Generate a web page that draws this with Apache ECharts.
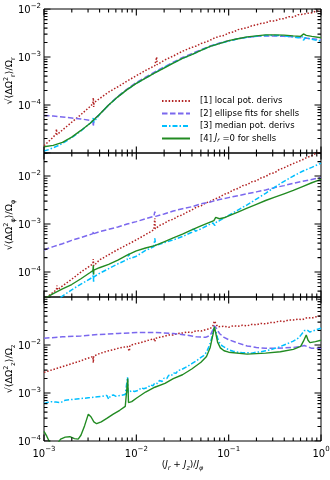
<!DOCTYPE html>
<html><head><meta charset="utf-8">
<script src="https://cdn.jsdelivr.net/npm/echarts@6/dist/echarts.min.js"></script>
<style>html,body{margin:0;padding:0;background:#fff}#c{width:330px;height:480px}</style>
</head><body><div id="c"></div>
<script>
// ---- data: points are [log10(x), log10(y)] (axes are drawn in decades) ----
const SERIES_NAMES = ['[1] local pot. derivs','[2] ellipse fits for shells','[3] median pot. derivs','[4] Jr =0 for shells'];
const X_MAJOR = [-3, -2, -1, 0];           // decades: 10^-3 ... 10^0
const Y_LABELED = [-4, -3, -2];            // labelled decades on every panel
const Y_RANGES = [[-5, -2], [-4.52, -1.52], [-4, -1]];
const Y_MAJOR = [[-5, -4, -3, -2], [-4, -3, -2], [-4, -3, -2, -1]];
const MANTISSAS = [2, 3, 4, 5, 6, 7, 8, 9];

// Panel 1 : radial
const p1_red = [[-3.0,-4.85],[-2.95,-4.76],[-2.9,-4.67],[-2.87,-4.6],[-2.865,-4.5],[-2.86,-4.62],[-2.8,-4.52],[-2.7,-4.36],[-2.6,-4.2],[-2.5,-4.03],[-2.47,-3.97],[-2.466,-3.85],[-2.462,-4.04],[-2.458,-3.95],[-2.4,-3.87],[-2.3,-3.73],[-2.2,-3.62],[-2.1,-3.5],[-2.0,-3.39],[-1.9,-3.28],[-1.8,-3.18],[-1.785,-3.16],[-1.78,-3.0],[-1.775,-3.16],[-1.7,-3.07],[-1.6,-2.98],[-1.5,-2.88],[-1.45,-2.84],[-1.4,-2.8],[-1.35,-2.77],[-1.3,-2.72],[-1.25,-2.69],[-1.2,-2.65],[-1.15,-2.6],[-1.1,-2.57],[-1.05,-2.55],[-1.0,-2.5],[-0.95,-2.48],[-0.9,-2.43],[-0.85,-2.41],[-0.8,-2.39],[-0.75,-2.35],[-0.7,-2.33],[-0.65,-2.3],[-0.6,-2.29],[-0.55,-2.25],[-0.5,-2.25],[-0.45,-2.21],[-0.4,-2.2],[-0.35,-2.16],[-0.3,-2.17],[-0.25,-2.12],[-0.2,-2.11],[-0.15,-2.09],[-0.1,-2.08],[-0.05,-2.04],[0,-2.05]];
const p1_blue = [[-3.0,-4.22],[-2.9,-4.23],[-2.8,-4.25],[-2.7,-4.27],[-2.6,-4.29],[-2.5,-4.32],[-2.47,-4.33],[-2.466,-4.45],[-2.46,-4.3],[-2.4,-4.2],[-2.3,-4.0],[-2.2,-3.82],[-2.1,-3.67],[-2.0,-3.53],[-1.9,-3.42],[-1.8,-3.31],[-1.7,-3.21],[-1.6,-3.11],[-1.5,-3.01],[-1.4,-2.93],[-1.3,-2.85],[-1.2,-2.77],[-1.1,-2.71],[-1.0,-2.66],[-0.9,-2.62],[-0.8,-2.59],[-0.7,-2.57],[-0.6,-2.56],[-0.5,-2.56],[-0.4,-2.57],[-0.3,-2.58],[-0.2,-2.6],[-0.1,-2.62],[0,-2.64]];
const p1_cyan = [[-3.0,-4.96],[-2.95,-4.93],[-2.9,-4.89],[-2.85,-4.85],[-2.8,-4.8],[-2.7,-4.68],[-2.6,-4.54],[-2.5,-4.38],[-2.47,-4.33],[-2.466,-4.25],[-2.462,-4.36],[-2.4,-4.2],[-2.3,-4.0],[-2.2,-3.83],[-2.1,-3.68],[-2.0,-3.55],[-1.9,-3.44],[-1.8,-3.33],[-1.7,-3.22],[-1.6,-3.12],[-1.5,-3.03],[-1.4,-2.95],[-1.3,-2.86],[-1.2,-2.78],[-1.1,-2.72],[-1.0,-2.67],[-0.9,-2.62],[-0.8,-2.59],[-0.7,-2.57],[-0.6,-2.55],[-0.5,-2.55],[-0.4,-2.56],[-0.3,-2.58],[-0.25,-2.6],[-0.2,-2.58],[-0.19,-2.65],[-0.17,-2.6],[-0.1,-2.63],[-0.05,-2.65],[0,-2.67]];
const p1_green = [[-3.0,-4.87],[-2.9,-4.84],[-2.8,-4.78],[-2.7,-4.67],[-2.6,-4.53],[-2.5,-4.38],[-2.4,-4.2],[-2.3,-4.0],[-2.2,-3.83],[-2.1,-3.68],[-2.0,-3.55],[-1.9,-3.44],[-1.8,-3.33],[-1.7,-3.23],[-1.6,-3.13],[-1.5,-3.03],[-1.4,-2.95],[-1.3,-2.86],[-1.2,-2.78],[-1.1,-2.72],[-1.0,-2.66],[-0.9,-2.62],[-0.8,-2.58],[-0.7,-2.56],[-0.6,-2.54],[-0.5,-2.54],[-0.4,-2.545],[-0.3,-2.56],[-0.22,-2.57],[-0.19,-2.52],[-0.16,-2.55],[-0.1,-2.57],[0,-2.6]];

// Panel 2 : azimuthal
const p2_red = [[-3.0,-4.58],[-2.95,-4.5],[-2.9,-4.42],[-2.865,-4.37],[-2.86,-4.28],[-2.855,-4.37],[-2.8,-4.29],[-2.7,-4.15],[-2.6,-4.0],[-2.5,-3.87],[-2.47,-3.83],[-2.466,-3.73],[-2.462,-3.87],[-2.4,-3.75],[-2.3,-3.64],[-2.2,-3.53],[-2.1,-3.43],[-2.0,-3.33],[-1.9,-3.22],[-1.81,-3.12],[-1.8,-2.88],[-1.795,-3.1],[-1.75,-3.03],[-1.7,-2.99],[-1.65,-2.93],[-1.6,-2.9],[-1.55,-2.84],[-1.5,-2.81],[-1.45,-2.75],[-1.4,-2.71],[-1.35,-2.65],[-1.3,-2.62],[-1.25,-2.56],[-1.2,-2.53],[-1.15,-2.48],[-1.1,-2.44],[-1.05,-2.38],[-1.0,-2.35],[-0.95,-2.29],[-0.9,-2.26],[-0.85,-2.2],[-0.8,-2.18],[-0.75,-2.12],[-0.7,-2.1],[-0.65,-2.04],[-0.6,-2.01],[-0.55,-1.95],[-0.5,-1.93],[-0.45,-1.86],[-0.4,-1.83],[-0.35,-1.78],[-0.3,-1.74],[-0.25,-1.7],[-0.2,-1.66],[-0.15,-1.61],[-0.1,-1.58],[-0.05,-1.52],[0,-1.49]];
const p2_blue = [[-3.0,-3.54],[-2.9,-3.47],[-2.8,-3.41],[-2.7,-3.34],[-2.6,-3.28],[-2.5,-3.22],[-2.47,-3.2],[-2.466,-3.15],[-2.46,-3.2],[-2.4,-3.16],[-2.3,-3.11],[-2.2,-3.06],[-2.1,-3.0],[-2.0,-2.95],[-1.9,-2.89],[-1.81,-2.84],[-1.8,-2.74],[-1.79,-2.84],[-1.7,-2.79],[-1.6,-2.73],[-1.5,-2.68],[-1.4,-2.64],[-1.3,-2.58],[-1.2,-2.54],[-1.1,-2.49],[-1.0,-2.45],[-0.9,-2.41],[-0.8,-2.37],[-0.7,-2.33],[-0.6,-2.29],[-0.5,-2.24],[-0.4,-2.2],[-0.3,-2.15],[-0.2,-2.11],[-0.1,-2.07],[0,-2.03]];
const p2_cyan = [[-3.0,-4.8],[-2.9,-4.63],[-2.8,-4.5],[-2.7,-4.37],[-2.6,-4.25],[-2.5,-4.14],[-2.47,-4.1],[-2.466,-3.95],[-2.463,-4.22],[-2.46,-4.1],[-2.4,-4.03],[-2.3,-3.93],[-2.2,-3.83],[-2.1,-3.74],[-2.08,-3.62],[-2.07,-3.72],[-2.0,-3.67],[-1.9,-3.55],[-1.81,-3.47],[-1.8,-3.3],[-1.79,-3.45],[-1.7,-3.39],[-1.6,-3.33],[-1.5,-3.26],[-1.4,-3.17],[-1.38,-3.08],[-1.36,-3.15],[-1.3,-3.1],[-1.2,-3.0],[-1.17,-2.98],[-1.15,-3.03],[-1.13,-2.95],[-1.1,-2.93],[-1.0,-2.82],[-0.9,-2.71],[-0.8,-2.6],[-0.7,-2.48],[-0.6,-2.36],[-0.5,-2.23],[-0.45,-2.17],[-0.4,-2.11],[-0.3,-2.0],[-0.2,-1.9],[-0.1,-1.82],[0,-1.73]];
const p2_green = [[-3.0,-4.56],[-2.9,-4.45],[-2.8,-4.35],[-2.7,-4.26],[-2.6,-4.14],[-2.5,-4.01],[-2.47,-3.97],[-2.466,-3.86],[-2.463,-4.05],[-2.46,-3.96],[-2.4,-3.91],[-2.3,-3.84],[-2.2,-3.75],[-2.1,-3.65],[-2.0,-3.56],[-1.9,-3.5],[-1.8,-3.45],[-1.7,-3.37],[-1.6,-3.29],[-1.5,-3.21],[-1.4,-3.12],[-1.3,-3.04],[-1.2,-2.96],[-1.16,-2.93],[-1.14,-2.86],[-1.12,-2.85],[-1.1,-2.89],[-1.05,-2.87],[-1.0,-2.83],[-0.9,-2.75],[-0.8,-2.67],[-0.7,-2.59],[-0.6,-2.51],[-0.5,-2.44],[-0.4,-2.37],[-0.3,-2.3],[-0.2,-2.22],[-0.1,-2.14],[0,-2.07]];

// Panel 3 : vertical
const p3_red = [[-3.0,-2.57],[-2.95,-2.54],[-2.9,-2.51],[-2.85,-2.48],[-2.8,-2.45],[-2.75,-2.42],[-2.7,-2.39],[-2.65,-2.36],[-2.6,-2.33],[-2.55,-2.29],[-2.5,-2.26],[-2.47,-2.24],[-2.466,-2.37],[-2.462,-2.23],[-2.4,-2.18],[-2.35,-2.15],[-2.3,-2.12],[-2.25,-2.1],[-2.2,-2.07],[-2.15,-2.05],[-2.1,-2.03],[-2.08,-2.02],[-2.075,-2.13],[-2.07,-2.01],[-2.0,-1.97],[-1.95,-1.95],[-1.9,-1.92],[-1.85,-1.89],[-1.81,-1.87],[-1.8,-1.93],[-1.79,-1.86],[-1.75,-1.84],[-1.7,-1.82],[-1.65,-1.79],[-1.6,-1.79],[-1.55,-1.76],[-1.5,-1.75],[-1.45,-1.73],[-1.4,-1.74],[-1.35,-1.7],[-1.3,-1.71],[-1.25,-1.68],[-1.2,-1.66],[-1.17,-1.6],[-1.155,-1.5],[-1.14,-1.55],[-1.12,-1.62],[-1.1,-1.63],[-1.05,-1.61],[-1.0,-1.63],[-0.95,-1.6],[-0.9,-1.61],[-0.85,-1.59],[-0.8,-1.6],[-0.75,-1.57],[-0.7,-1.58],[-0.65,-1.55],[-0.6,-1.56],[-0.55,-1.53],[-0.5,-1.53],[-0.45,-1.5],[-0.4,-1.51],[-0.35,-1.48],[-0.3,-1.48],[-0.25,-1.46],[-0.2,-1.47],[-0.15,-1.43],[-0.1,-1.44],[-0.05,-1.41],[0,-1.39]];
const p3_blue = [[-3.0,-1.86],[-2.8,-1.83],[-2.6,-1.81],[-2.4,-1.78],[-2.2,-1.76],[-2.0,-1.74],[-1.8,-1.74],[-1.6,-1.76],[-1.47,-1.79],[-1.35,-1.83],[-1.25,-1.84],[-1.2,-1.8],[-1.17,-1.68],[-1.155,-1.6],[-1.13,-1.66],[-1.1,-1.76],[-1.05,-1.84],[-1.0,-1.89],[-0.9,-1.96],[-0.8,-2.02],[-0.7,-2.05],[-0.6,-2.07],[-0.5,-2.07],[-0.4,-2.06],[-0.3,-2.05],[-0.22,-2.03],[-0.18,-2.01],[-0.16,-1.99],[-0.14,-2.04],[-0.1,-2.07],[0,-2.07]];
const p3_cyan = [[-3.0,-3.22],[-2.97,-3.2],[-2.95,-3.24],[-2.92,-3.18],[-2.9,-3.21],[-2.87,-3.19],[-2.85,-3.16],[-2.82,-3.2],[-2.8,-3.17],[-2.77,-3.15],[-2.75,-3.18],[-2.72,-3.14],[-2.7,-3.16],[-2.67,-3.13],[-2.65,-3.15],[-2.62,-3.12],[-2.6,-3.14],[-2.57,-3.11],[-2.55,-3.13],[-2.52,-3.1],[-2.5,-3.12],[-2.47,-3.09],[-2.45,-3.11],[-2.42,-3.08],[-2.4,-3.1],[-2.37,-3.07],[-2.35,-3.09],[-2.32,-3.05],[-2.3,-3.13],[-2.28,-3.06],[-2.25,-3.04],[-2.22,-3.07],[-2.2,-3.03],[-2.17,-3.05],[-2.15,-3.01],[-2.12,-3.03],[-2.1,-2.99],[-2.095,-2.67],[-2.09,-2.99],[-2.07,-3.0],[-2.05,-2.95],[-2.02,-2.97],[-2.0,-2.93],[-1.97,-2.94],[-1.95,-2.89],[-1.92,-2.91],[-1.9,-2.87],[-1.87,-2.88],[-1.85,-2.83],[-1.82,-2.85],[-1.8,-2.79],[-1.77,-2.8],[-1.75,-2.74],[-1.72,-2.76],[-1.7,-2.69],[-1.67,-2.7],[-1.65,-2.63],[-1.62,-2.64],[-1.6,-2.58],[-1.57,-2.59],[-1.55,-2.53],[-1.52,-2.52],[-1.5,-2.49],[-1.45,-2.45],[-1.4,-2.39],[-1.35,-2.33],[-1.3,-2.26],[-1.27,-2.22],[-1.24,-2.15],[-1.22,-2.06],[-1.2,-1.96],[-1.18,-1.83],[-1.17,-1.74],[-1.16,-1.65],[-1.15,-1.62],[-1.14,-1.68],[-1.13,-1.76],[-1.12,-1.86],[-1.1,-1.95],[-1.07,-2.02],[-1.05,-2.05],[-1.0,-2.1],[-0.95,-2.13],[-0.9,-2.15],[-0.85,-2.16],[-0.8,-2.16],[-0.75,-2.17],[-0.7,-2.15],[-0.65,-2.14],[-0.6,-2.12],[-0.55,-2.1],[-0.5,-2.07],[-0.45,-2.04],[-0.4,-2.0],[-0.35,-1.96],[-0.3,-1.92],[-0.25,-1.86],[-0.22,-1.8],[-0.2,-1.75],[-0.18,-1.7],[-0.17,-1.67],[-0.15,-1.69],[-0.12,-1.73],[-0.1,-1.72],[-0.05,-1.68],[0,-1.65]];
const p3_green = [[-3.0,-3.8],[-2.97,-3.9],[-2.94,-4.02],[-2.9,-4.08],[-2.85,-4.04],[-2.82,-3.96],[-2.77,-3.92],[-2.72,-3.91],[-2.67,-3.95],[-2.63,-3.96],[-2.6,-3.88],[-2.56,-3.68],[-2.52,-3.44],[-2.49,-3.5],[-2.46,-3.6],[-2.43,-3.64],[-2.38,-3.6],[-2.32,-3.53],[-2.25,-3.44],[-2.18,-3.36],[-2.12,-3.28],[-2.1,-3.25],[-2.093,-2.7],[-2.085,-3.2],[-2.05,-3.18],[-2.0,-3.11],[-1.9,-2.98],[-1.8,-2.88],[-1.69,-2.8],[-1.6,-2.7],[-1.5,-2.62],[-1.4,-2.5],[-1.3,-2.36],[-1.24,-2.24],[-1.2,-2.05],[-1.17,-1.78],[-1.155,-1.62],[-1.14,-1.75],[-1.12,-1.94],[-1.09,-2.06],[-1.05,-2.12],[-1.0,-2.15],[-0.8,-2.19],[-0.6,-2.17],[-0.44,-2.14],[-0.3,-2.09],[-0.22,-2.03],[-0.19,-1.92],[-0.16,-1.79],[-0.14,-1.9],[-0.12,-1.95],[-0.06,-1.93],[0,-1.9]];

const PANEL_DATA = [
  [p1_red, p1_blue, p1_cyan, p1_green],
  [p2_red, p2_blue, p2_cyan, p2_green],
  [p3_red, p3_blue, p3_cyan, p3_green]
];
const Y_SUBS = ['r', 'φ', 'z'];

// ---- styling / layout ----
const FONT = 'DejaVu Sans';
const COLORS = ['#b22222', '#7b68ee', '#00bfff', '#228b22'];
const DASHES = [[1.5, 1.8], [5.5, 2.5], [5, 2, 1.5, 2], 'solid'];
const GRID_LEFT = 44, GRID_W = 277, GRID_H = 144;
const GRID_TOPS = [9, 153, 297];
const MAJ = 6.5, MINL = 3.5;   // tick lengths in px

function minorTicks(lo, hi) {
  const out = [];
  for (let d = Math.floor(lo) - 1; d <= Math.ceil(hi); d++) {
    for (const m of MANTISSAS) {
      const v = d + Math.log10(m);
      if (v > lo + 1e-9 && v < hi - 1e-9) out.push(v);
    }
  }
  return out;
}
const X_MINOR = minorTicks(-3, 0);

function expLabel(v) {
  const e = Math.round(v);
  return '{m|10}{e|' + (e < 0 ? '\u2212' + (-e) : e) + '}';
}
const labelRich = {
  m: {fontFamily: FONT, fontSize: 10, color: '#000', verticalAlign: 'bottom', lineHeight: 13},
  e: {fontFamily: FONT, fontSize: 7, color: '#000', verticalAlign: 'top', lineHeight: 13}
};

const grids = [], xAxes = [], yAxes = [], series = [];
GRID_TOPS.forEach((top, gi) => {
  grids.push({left: GRID_LEFT, width: GRID_W, top: top, height: GRID_H, outerBoundsMode: 'none', containLabel: false,
    show: true, borderColor: '#000', borderWidth: 1, backgroundColor: 'transparent'});
  const [ylo, yhi] = Y_RANGES[gi];
  const isLast = gi === 2;
  const sub = Y_SUBS[gi];
  xAxes.push({type: 'value', min: -3, max: 0, gridIndex: gi, position: 'bottom',
    splitLine: {show: false}, axisLine: {show: false, onZero: false}, axisTick: {show: false},
    axisLabel: isLast ? {show: true, customValues: X_MAJOR, margin: 5, formatter: expLabel, rich: labelRich} : {show: false},
    name: isLast ? '{p|(}{i|J}{s|r}{p| + }{i|J}{s|z}{p|)/}{i|J}{s|φ}' : '',
    nameLocation: 'middle', nameGap: 19, nameMoveOverlap: false,
    nameTextStyle: {rich: {
      p: {fontFamily: FONT, fontSize: 9, color: '#000', verticalAlign: 'top', lineHeight: 12},
      i: {fontFamily: FONT, fontSize: 9, fontStyle: 'italic', color: '#000', verticalAlign: 'top', lineHeight: 12},
      s: {fontFamily: FONT, fontSize: 6.5, fontStyle: 'italic', color: '#000', verticalAlign: 'bottom', lineHeight: 12}
    }}
  });
  yAxes.push({type: 'value', min: ylo, max: yhi, gridIndex: gi, position: 'left',
    splitLine: {show: false}, axisLine: {show: false, onZero: false}, axisTick: {show: false},
    axisLabel: {show: true, customValues: Y_LABELED, margin: 3, formatter: expLabel, rich: labelRich},
    name: '{n|√⟨ΔΩ}{sp|2}{sb|' + sub + '}{n|⟩/Ω}{sb|' + sub + '}',
    nameLocation: 'middle', nameRotate: 90, nameGap: 27, nameMoveOverlap: false,
    nameTextStyle: {rich: {
      n: {fontFamily: FONT, fontSize: 9.5, color: '#000', verticalAlign: 'middle', lineHeight: 14},
      sp: {fontFamily: FONT, fontSize: 6.5, color: '#000', verticalAlign: 'top', lineHeight: 14},
      sb: {fontFamily: FONT, fontSize: 6.5, color: '#000', verticalAlign: 'bottom', lineHeight: 14}
    }}
  });

  PANEL_DATA[gi].forEach((pts, si) => {
    series.push({
      type: 'line', name: SERIES_NAMES[si], xAxisIndex: gi, yAxisIndex: gi,
      data: pts, showSymbol: false, symbol: 'none', smooth: false, animation: false, silent: true,
      lineStyle: {color: COLORS[si], width: si === 3 ? 1.4 : 1.5, type: DASHES[si], cap: 'butt'},
      itemStyle: {color: COLORS[si]}, z: 2 + si
    });
  });

  // inward ticks on all four sides: one short line series per tick, drawn through the panel's axes
  const dyPerPx = (yhi - ylo) / GRID_H, dxPerPx = 3 / GRID_W;
  const ticks = [];
  const addX = (v, len) => {
    ticks.push([[v, ylo], [v, ylo + len * dyPerPx]]);
    ticks.push([[v, yhi], [v, yhi - len * dyPerPx]]);
  };
  const addY = (v, len) => {
    ticks.push([[-3, v], [-3 + len * dxPerPx, v]]);
    ticks.push([[0, v], [0 - len * dxPerPx, v]]);
  };
  X_MAJOR.forEach(v => addX(v, MAJ));
  X_MINOR.forEach(v => addX(v, MINL));
  Y_MAJOR[gi].forEach(v => addY(v, MAJ));
  minorTicks(ylo, yhi).forEach(v => addY(v, MINL));
  ticks.forEach((seg, k) => series.push({type: 'line', name: 'tick' + gi + '_' + k,
    xAxisIndex: gi, yAxisIndex: gi, data: seg, showSymbol: false, symbol: 'none',
    silent: true, animation: false, lineStyle: {color: '#000', width: 1.1, type: 'solid'}, z: 6}));
});

const chart = echarts.init(document.getElementById('c'), null, {renderer: 'canvas', width: 330, height: 480});
chart.setOption({
  backgroundColor: '#fff',
  animation: false,
  tooltip: {show: false},
  grid: grids, xAxis: xAxes, yAxis: yAxes, series: series,
  legend: {
    data: SERIES_NAMES, orient: 'vertical', left: 161, top: 96,
    itemWidth: 28, itemHeight: 8, itemGap: 2.5, padding: 0,
    itemStyle: {opacity: 0, borderWidth: 0},
    formatter: n => n.startsWith('[4]') ? '[4] {i|J}{s|r} =0 for shells' : n,
    textStyle: {fontFamily: FONT, fontSize: 8.5, color: '#000', lineHeight: 10, padding: [0, 0, 0, 5],
      rich: {i: {fontFamily: FONT, fontSize: 8.5, fontStyle: 'italic', color: '#000', verticalAlign: 'top', lineHeight: 10},
             s: {fontFamily: FONT, fontSize: 6, fontStyle: 'italic', color: '#000', verticalAlign: 'bottom', lineHeight: 10}}}
  }
});
</script></body></html>
